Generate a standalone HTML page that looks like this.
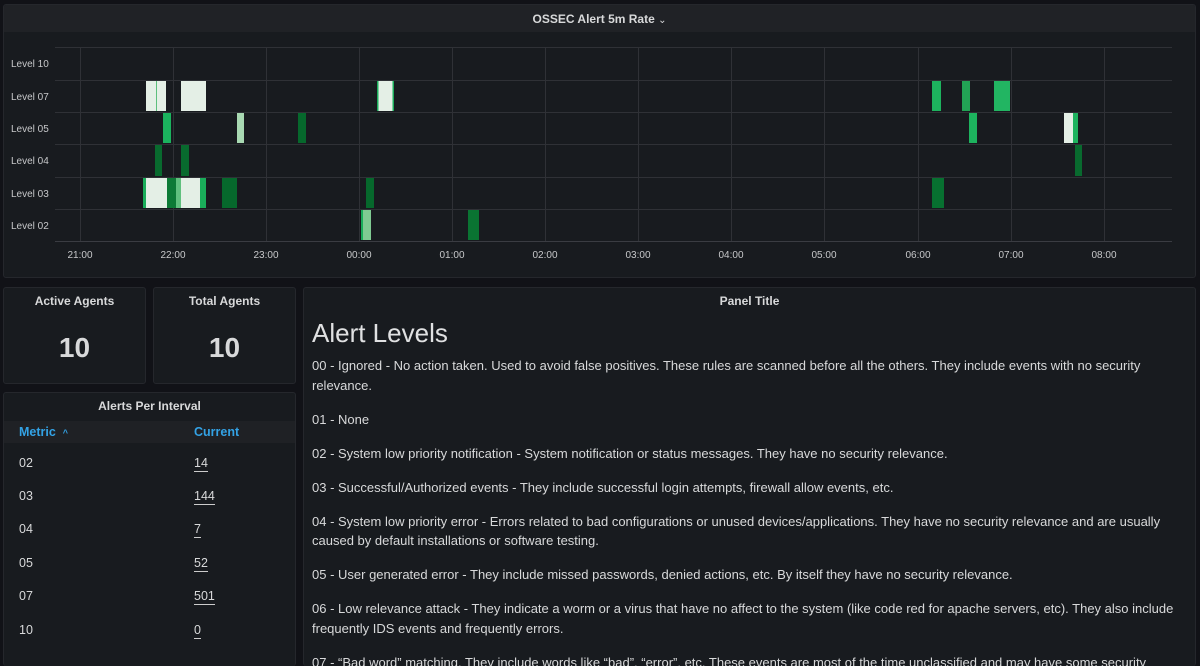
<!DOCTYPE html>
<html style="overflow:hidden;height:666px"><head><style>
body{margin:0;width:1200px;height:666px;background:#111217;font-family:"Liberation Sans",sans-serif;color:#d8d9da;overflow:hidden;position:relative}
.p{position:absolute;background:#181b1f;border:1px solid #25272c;border-radius:3px;box-sizing:border-box;overflow:hidden}
.t{position:absolute;left:0;right:0;text-align:center;font-size:12px;font-weight:bold;color:#d8d9da}
.big{position:absolute;left:0;right:0;text-align:center;font-size:28px;font-weight:bold;color:#d8d9da}
.row{position:absolute;left:15px;font-size:12.5px}
.val{position:absolute;left:190px;font-size:12.5px;border-bottom:1px solid #ccc;line-height:15px}
.txt{position:absolute;left:8px;right:14px;font-size:13px;line-height:19.5px;color:#d8d9da}
.txt p{margin:0 0 14.5px 0}
</style></head><body>
<div class="p" style="left:3px;top:4px;width:1193px;height:274px;">
<div style="position:absolute;left:0;top:0;right:0;height:27px;background:#202226"></div>
<div class="t" style="top:7px">OSSEC Alert 5m Rate <span style="font-weight:normal;font-size:10px">⌄</span></div>
</div>
<svg style="position:absolute;left:0;top:0" width="1200" height="280">
<g stroke="#2f3136" stroke-width="1">
<line x1="55" x2="1172" y1="47.5" y2="47.5"/><line x1="55" x2="1172" y1="80.5" y2="80.5"/><line x1="55" x2="1172" y1="112.5" y2="112.5"/><line x1="55" x2="1172" y1="144.5" y2="144.5"/><line x1="55" x2="1172" y1="177.5" y2="177.5"/><line x1="55" x2="1172" y1="209.5" y2="209.5"/><line x1="55" x2="1172" y1="241.5" y2="241.5" stroke="#3a3c42"/>
<line x1="80.5" x2="80.5" y1="47" y2="241"/><line x1="173.5" x2="173.5" y1="47" y2="241"/><line x1="266.5" x2="266.5" y1="47" y2="241"/><line x1="359.5" x2="359.5" y1="47" y2="241"/><line x1="452.5" x2="452.5" y1="47" y2="241"/><line x1="545.5" x2="545.5" y1="47" y2="241"/><line x1="638.5" x2="638.5" y1="47" y2="241"/><line x1="731.5" x2="731.5" y1="47" y2="241"/><line x1="824.5" x2="824.5" y1="47" y2="241"/><line x1="918.5" x2="918.5" y1="47" y2="241"/><line x1="1011.5" x2="1011.5" y1="47" y2="241"/><line x1="1104.5" x2="1104.5" y1="47" y2="241"/>
</g>
<g font-size="10" fill="#c7c8ca" font-family="Liberation Sans">
<text x="11" y="67">Level 10</text><text x="11" y="100">Level 07</text><text x="11" y="132">Level 05</text><text x="11" y="164">Level 04</text><text x="11" y="197">Level 03</text><text x="11" y="229">Level 02</text>
</g>
<g font-size="10" fill="#c7c8ca" font-family="Liberation Sans" text-anchor="middle">
<text x="80" y="258">21:00</text><text x="173" y="258">22:00</text><text x="266" y="258">23:00</text><text x="359" y="258">00:00</text><text x="452" y="258">01:00</text><text x="545" y="258">02:00</text><text x="638" y="258">03:00</text><text x="731" y="258">04:00</text><text x="824" y="258">05:00</text><text x="918" y="258">06:00</text><text x="1011" y="258">07:00</text><text x="1104" y="258">08:00</text>
</g>
<g>
<rect x="146" y="81" width="20" height="30" fill="#e4efe6"/><rect x="156" y="81" width="1" height="30" fill="#5cbf7c"/>
<rect x="181" y="81" width="25" height="30" fill="#e4efe6"/>
<rect x="377" y="81" width="17" height="30" fill="#e4efe6"/><rect x="377" y="81" width="1.5" height="30" fill="#1aad5a"/><rect x="392.5" y="81" width="1.5" height="30" fill="#1aad5a"/>
<rect x="932" y="81" width="9" height="30" fill="#1db35e"/><rect x="962" y="81" width="8" height="30" fill="#22a355"/><rect x="994" y="81" width="16" height="30" fill="#22b562"/>
<rect x="163" y="113" width="8" height="30" fill="#1bb35e"/><rect x="237" y="113" width="7" height="30" fill="#a8d9b2"/><rect x="298" y="113" width="8" height="30" fill="#06682c"/>
<rect x="969" y="113" width="8" height="30" fill="#1db35e"/><rect x="1064" y="113" width="9" height="30" fill="#e4efe6"/><rect x="1073" y="113" width="5" height="30" fill="#1db35e"/>
<rect x="155" y="145" width="7" height="31" fill="#086a2e"/><rect x="181" y="145" width="8" height="31" fill="#086a2e"/><rect x="1075" y="145" width="7" height="31" fill="#086a2e"/>
<rect x="143" y="178" width="24" height="30" fill="#e4efe6"/><rect x="143" y="178" width="3" height="30" fill="#1aad5a"/>
<rect x="167" y="178" width="23" height="30" fill="#0d7a36"/><rect x="176" y="178" width="5" height="30" fill="#60c07e"/><rect x="181" y="178" width="9" height="30" fill="#e4efe6"/>
<rect x="190" y="178" width="16" height="30" fill="#e4efe6"/><rect x="200" y="178" width="6" height="30" fill="#1aad5a"/>
<rect x="222" y="178" width="15" height="30" fill="#06682c"/><rect x="366" y="178" width="8" height="30" fill="#06682c"/><rect x="932" y="178" width="12" height="30" fill="#077030"/>
<rect x="361" y="210" width="10" height="30" fill="#7fcb92"/><rect x="361" y="210" width="2" height="30" fill="#1aad5a"/><rect x="468" y="210" width="11" height="30" fill="#0a7432"/>
</g>
</svg>
<div class="p" style="left:3px;top:287px;width:143px;height:97px"><div class="t" style="top:6px">Active Agents</div><div class="big" style="top:44px">10</div></div>
<div class="p" style="left:153px;top:287px;width:143px;height:97px"><div class="t" style="top:6px">Total Agents</div><div class="big" style="top:44px">10</div></div>
<div class="p" style="left:3px;top:392px;width:293px;height:274px;border-bottom:none">
<div class="t" style="top:6px">Alerts Per Interval</div>
<div style="position:absolute;left:0;right:0;top:28px;height:22px;background:#1f2125"></div>
<div style="position:absolute;left:15px;top:32px;font-size:12.5px;font-weight:bold;color:#33a2e5">Metric &nbsp;<span style="font-size:9px">^</span></div>
<div style="position:absolute;left:190px;top:32px;font-size:12.5px;font-weight:bold;color:#33a2e5">Current</div>
<div class="row" style="top:63px">02</div><div class="val" style="top:63px">14</div>
<div class="row" style="top:96px">03</div><div class="val" style="top:96px">144</div>
<div class="row" style="top:129px">04</div><div class="val" style="top:129px">7</div>
<div class="row" style="top:163px">05</div><div class="val" style="top:163px">52</div>
<div class="row" style="top:196px">07</div><div class="val" style="top:196px">501</div>
<div class="row" style="top:230px">10</div><div class="val" style="top:230px">0</div>
</div>
<div class="p" style="left:303px;top:287px;width:893px;height:379px;border-bottom:none">
<div class="t" style="top:6px">Panel Title</div>
<div style="position:absolute;left:8px;top:30px;font-size:26px;color:#e0e1e2">Alert Levels</div>
<div class="txt" style="top:68px">
<p>00 - Ignored - No action taken. Used to avoid false positives. These rules are scanned before all the others. They include events with no security relevance.</p>
<p>01 - None</p>
<p>02 - System low priority notification - System notification or status messages. They have no security relevance.</p>
<p>03 - Successful/Authorized events - They include successful login attempts, firewall allow events, etc.</p>
<p>04 - System low priority error - Errors related to bad configurations or unused devices/applications. They have no security relevance and are usually caused by default installations or software testing.</p>
<p>05 - User generated error - They include missed passwords, denied actions, etc. By itself they have no security relevance.</p>
<p>06 - Low relevance attack - They indicate a worm or a virus that have no affect to the system (like code red for apache servers, etc). They also include frequently IDS events and frequently errors.</p>
<p>07 - “Bad word” matching. They include words like “bad”, “error”, etc. These events are most of the time unclassified and may have some security relevance.</p>
</div>
</div>
</body></html>
